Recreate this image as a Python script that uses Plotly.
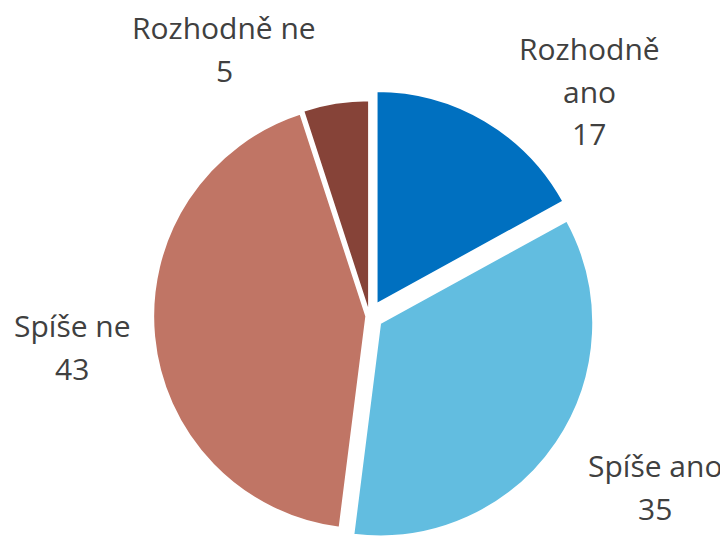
import plotly.graph_objects as go

categories = ["Rozhodně ano", "Spíše ano", "Spíše ne", "Rozhodně ne"]
label_lines = [["Rozhodně", "ano"], ["Spíše ano"], ["Spíše ne"], ["Rozhodně ne"]]
values = [17, 35, 43, 5]
colors = ["#0070C0", "#62BDE0", "#C07565", "#864338"]
pulls = [0.065, 0.06, 0.015, 0.012]

# page offset from default body margin
OFF = 8
W, H = 728, 537

# label block centres (page px, from top-left)
label_pos = [(589, 93), (655, 489), (72, 349), (224, 51)]
LINE_GAP = 43

R_MAX = 227  # px, incl. pull allowance
CX, CY = 369.5 - OFF, 316 - OFF  # paper px
cy_b = H - CY

fig = go.Figure(go.Pie(
    labels=categories,
    values=values,
    sort=False,
    direction="clockwise",
    rotation=0,
    pull=pulls,
    marker=dict(colors=colors, line=dict(color="white", width=2)),
    textinfo="none",
    hoverinfo="label+value",
    showlegend=False,
    domain=dict(x=[(CX - R_MAX) / W, (CX + R_MAX) / W],
                y=[(cy_b - R_MAX) / H, (cy_b + R_MAX) / H]),
))

for lines, v, (px, py) in zip(label_lines, values, label_pos):
    all_lines = lines + [str(v)]
    n = len(all_lines)
    for i, t in enumerate(all_lines):
        ly = py + (i - (n - 1) / 2) * LINE_GAP - 2 - OFF
        fig.add_annotation(
            x=(px - OFF) / W, y=1 - ly / H, xref="paper", yref="paper",
            text=t,
            showarrow=False, xanchor="center", yanchor="middle", align="center",
            font=dict(family="Open Sans", size=30, color="#404040"),
        )

fig.update_layout(
    width=W, height=H,
    margin=dict(l=0, r=0, t=0, b=0),
    paper_bgcolor="white", plot_bgcolor="white",
)

fig.write_html("out.html")
